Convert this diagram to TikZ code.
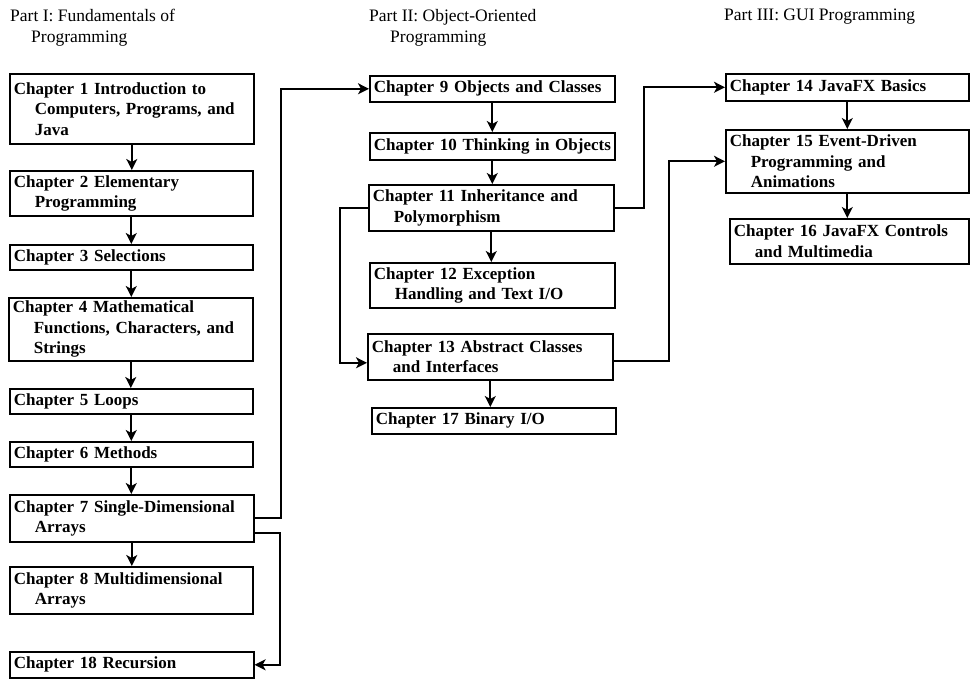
\documentclass[tikz,border=0pt]{standalone}
\usepackage{fontspec}
\setmainfont{Liberation Serif}
\usetikzlibrary{arrows.meta,calc}
\hyphenpenalty=10000
\exhyphenpenalty=10000
\begin{document}
\begin{tikzpicture}[x=1pt,y=-1pt,
  chap/.style={draw=black,line width=1.6pt,rectangle,anchor=north west,align=left,
    inner xsep=4pt,inner ysep=0pt,font=\fontsize{17}{20.5}\selectfont\bfseries},
  part/.style={anchor=north west,align=left,inner sep=0pt,font=\fontsize{17.5}{21}\selectfont},
  arr/.style={line width=1.8pt,-{Stealth[length=11pt,width=11pt,inset=3pt]}}]
\useasboundingbox (0,0) rectangle (980,687);
\newcommand{\ind}{\hspace*{21pt}}
\newcommand{\chapbox}[6]{\node[chap,minimum width=#3pt,minimum height=#4pt,text width=#5pt] (#1) at #2 {#6};}
% Part titles
\node[part] (p1) at (10,9) {Part I: Fundamentals of\\\hspace*{21pt}Programming};
\node[part] (p2) at (369,9) {Part II: Object-Oriented\\\hspace*{21pt}Programming};
\node[part] (p3) at (724,9) {Part III: GUI Programming};
% Part I
\chapbox{c1}{(9,73)}{244}{70}{236}{Chapter 1 Introduction to\\\ind Computers, Programs, and\\\ind Java}
\chapbox{c2}{(9,170)}{243}{45}{235}{Chapter 2 Elementary\\\ind Programming}
\chapbox{c3}{(9,244)}{243}{25}{235}{Chapter 3 Selections}
\chapbox{c4}{(8,297)}{244}{63}{236}{Chapter 4 Mathematical\\\ind Functions, Characters, and\\\ind Strings}
\chapbox{c5}{(9,388)}{243}{25}{235}{Chapter 5 Loops}
\chapbox{c6}{(9,441)}{243}{25}{235}{Chapter 6 Methods}
\chapbox{c7}{(9,494)}{244}{47}{236}{Chapter 7 Single-Dimensional\\\ind Arrays}
\chapbox{c8}{(9,566)}{243}{47}{235}{Chapter 8 Multidimensional\\\ind Arrays}
\chapbox{c18}{(9,651)}{244}{26}{236}{Chapter 18 Recursion}
% Part II
\chapbox{c9}{(369,75)}{245}{26}{237}{Chapter 9 Objects and Classes}
\chapbox{c10}{(369,132)}{245}{27}{237}{\mbox{Chapter 10 Thinking in Objects}}
\chapbox{c11}{(368,184)}{245}{46}{237}{Chapter 11 Inheritance and\\\ind Polymorphism}
\chapbox{c12}{(369,262)}{245}{45}{237}{Chapter 12 Exception\\\ind Handling and Text I/O}
\chapbox{c13}{(367,333)}{245}{46}{237}{Chapter 13 Abstract Classes\\\ind and Interfaces}
\chapbox{c17}{(371,407)}{244}{26}{236}{Chapter 17 Binary I/O}
% Part III
\chapbox{c14}{(725,73)}{243}{27}{235}{Chapter 14 JavaFX Basics}
\chapbox{c15}{(725,129)}{243}{63}{235}{Chapter 15 Event-Driven\\\ind Programming and\\\ind Animations}
\chapbox{c16}{(729,218)}{239}{45}{231}{Chapter 16 JavaFX Controls\\\ind and Multimedia}
% vertical arrows
\foreach \a/\b in {c1/c2,c2/c3,c3/c4,c4/c5,c5/c6,c6/c7,c7/c8,c9/c10,c10/c11,c11/c12,c13/c17,c14/c15,c15/c16}
  \draw[arr] (\a.south) -- (\a.south |- \b.north);
% routed connectors
\draw[arr] (c7.east) -- ++(26,0) |- (c9.west);
\draw[arr] ([yshift=-15pt]c7.east) -- ++(25,0) |- (c18.east);
\draw[arr] (c11.west) -- ++(-28,0) |- ([yshift=-6pt]c13.west);
\draw[arr] (c11.east) -- ++(29,0) |- (c14.west);
\draw[arr] ([yshift=-4pt]c13.east) -- ++(55,0) |- (c15.west);
\end{tikzpicture}
\end{document}
